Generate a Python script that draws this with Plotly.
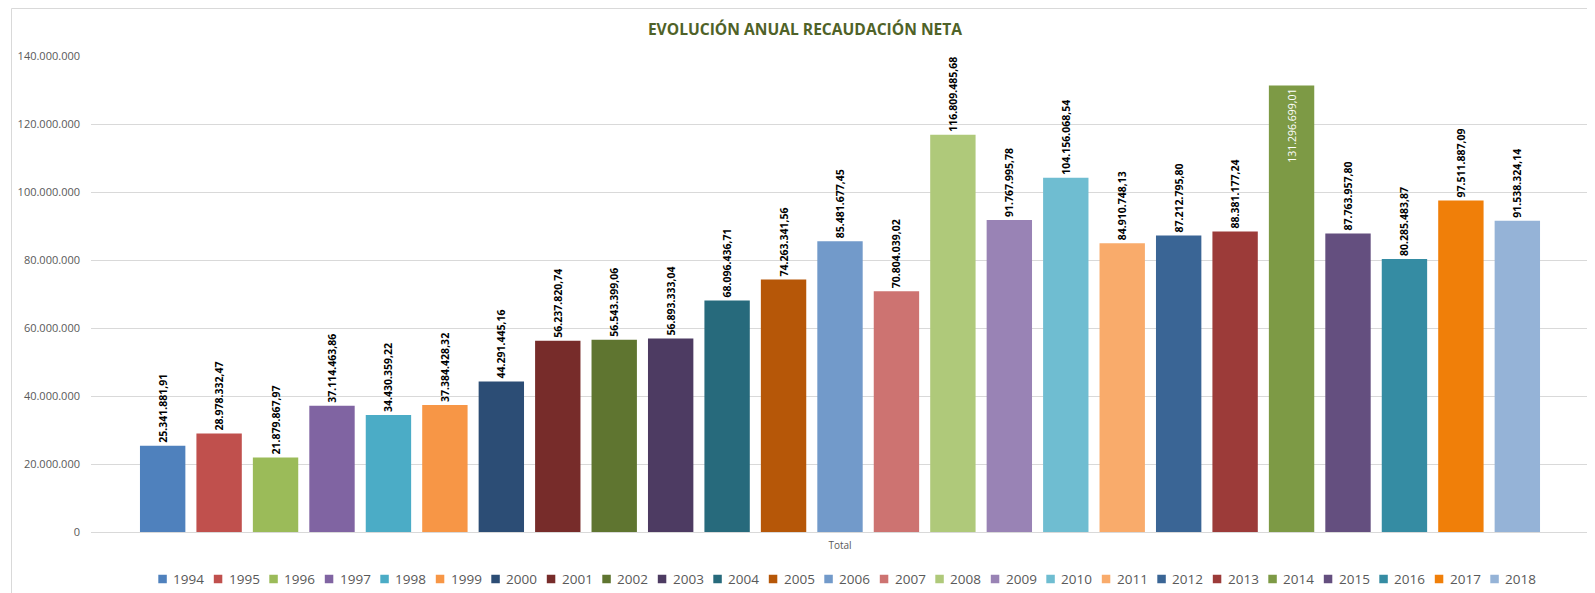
import plotly.graph_objects as go

years = ["1994", "1995", "1996", "1997", "1998", "1999", "2000", "2001", "2002", "2003",
         "2004", "2005", "2006", "2007", "2008", "2009", "2010", "2011", "2012", "2013",
         "2014", "2015", "2016", "2017", "2018"]
values = [25341881.91, 28978332.47, 21879867.97, 37114463.86, 34430359.22, 37384428.32,
          44291445.16, 56237820.74, 56543399.06, 56893333.04, 68096436.71, 74263341.56,
          85481677.45, 70804039.02, 116809485.68, 91767995.78, 104156068.54, 84910748.13,
          87212795.80, 88381177.24, 131296699.01, 87763957.80, 80285483.87, 97511887.09,
          91538324.14]
colors = ["#4F81BD", "#C0504D", "#9BBB59", "#8064A2", "#4BACC6", "#F79646", "#2C4D75",
          "#772C2A", "#5F7530", "#4D3B62", "#276A7C", "#B65708", "#729ACA", "#CD7371",
          "#AFC97A", "#9983B5", "#6FBDD1", "#F9AB6B", "#3A6595", "#9C3B39", "#7D9A45",
          "#644F7F", "#358CA3", "#F07F09", "#95B3D7"]
category = ["Total"]
y_ticks = [0, 20000000, 40000000, 60000000, 80000000, 100000000, 120000000, 140000000]


def es_fmt(v, dec=2):
    s = f"{v:,.{dec}f}"
    return s.replace(",", "X").replace(".", ",").replace("X", ".")


FONT = "Open Sans, Arial"
# the page body has an 8px default margin: build the figure 8px smaller and
# express target page positions relative to it
OFF = 8
W, H = 1595 - OFF, 593 - OFF
L, R, T, B = 91 - OFF, 6, 56 - OFF, 61
pw, ph = W - L - R, H - T - B


def px_x(x):  # page pixel -> paper fraction
    return (x - OFF - L) / pw


def px_y(y):
    return (H - B - (y - OFF)) / ph


fig = go.Figure()
for yr, v, c in zip(years, values, colors):
    inside = v > 125000000
    fig.add_trace(go.Bar(
        x=category, y=[v], name=yr, marker=dict(color=c, line=dict(width=0)),
        text=[es_fmt(v)], textangle=-90,
        textposition="inside" if inside else "outside",
        insidetextanchor="end", constraintext="none",
        textfont=dict(family=FONT, size=10.5,
                      color="white" if inside else "black",
                      weight="normal" if inside else "bold"),
        cliponaxis=False, showlegend=False,
    ))

# chart-area border and a single-row legend (squares + labels)
shapes = [dict(type="rect", xref="paper", yref="paper",
               x0=px_x(11.5), x1=px_x(1620), y0=px_y(620), y1=px_y(OFF + 0.5),
               line=dict(color="#D9D9D9", width=1), layer="below")]
annotations = []
leg_x0, leg_step, leg_y, sq = 158.3, 55.5, 579, 8.5
for i, (yr, c) in enumerate(zip(years, colors)):
    x = leg_x0 + i * leg_step
    shapes.append(dict(type="rect", xref="paper", yref="paper",
                       x0=px_x(x), x1=px_x(x + sq),
                       y0=px_y(leg_y + sq / 2), y1=px_y(leg_y - sq / 2),
                       fillcolor=c, line=dict(width=0)))
    annotations.append(dict(text=yr, xref="paper", yref="paper",
                            x=px_x(x + sq + 4.5), y=px_y(leg_y),
                            xanchor="left", yanchor="middle", showarrow=False,
                            font=dict(family=FONT, size=13.5, color="#595959")))

fig.update_layout(
    width=W, height=H,
    margin=dict(l=L, r=R, t=T, b=B, autoexpand=False),
    paper_bgcolor="white", plot_bgcolor="white",
    barmode="group", bargap=0.058, bargroupgap=0.196,
    title=dict(text="<b>EVOLUCIÓN ANUAL RECAUDACIÓN NETA</b>",
               x=(805 - OFF) / W, xanchor="center",
               y=1 - (30 - OFF) / H, yanchor="middle",
               font=dict(family=FONT, size=15.6, color="#4F6228")),
    xaxis=dict(showgrid=False, showline=True, linecolor="#D9D9D9", linewidth=1,
               tickfont=dict(family=FONT, size=10, color="#595959"),
               ticks="", ticklabelstandoff=4),
    yaxis=dict(range=[0, 140000000], tickvals=y_ticks,
               ticktext=[es_fmt(t, 0) for t in y_ticks],
               showgrid=True, gridcolor="#D9D9D9", gridwidth=1, zeroline=False,
               tickfont=dict(family=FONT, size=11, color="#595959"),
               ticks="", ticklabelstandoff=10),
    showlegend=False,
    shapes=shapes,
    annotations=annotations,
)

fig.write_html("out.html")
